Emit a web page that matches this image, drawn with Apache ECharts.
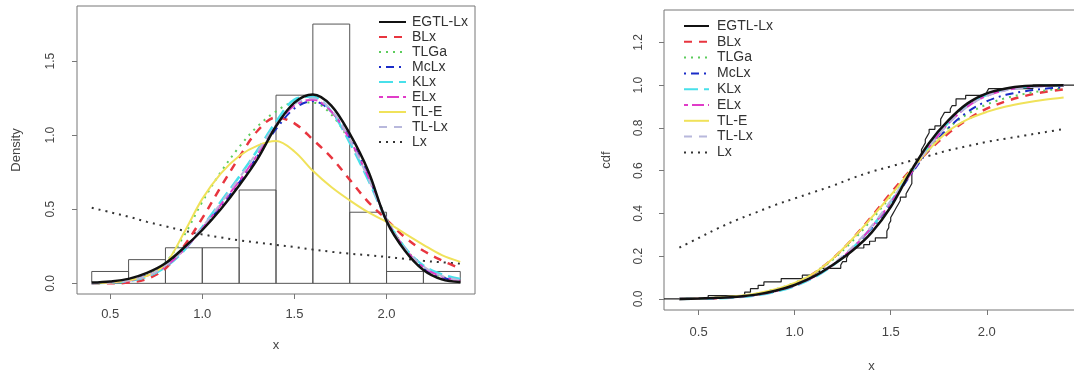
<!DOCTYPE html>
<html>
<head>
<meta charset="utf-8">
<title>Fitted densities and cdfs</title>
<script src="https://cdn.jsdelivr.net/npm/echarts@6/dist/echarts.min.js"></script>
<style>
  html, body { margin: 0; padding: 0; background: #fff; }
  #chart { width: 1074px; height: 375px; }
</style>
</head>
<body>
<div id="chart"></div>
<script>
const xGrid = [0.4, 0.5, 0.6, 0.7, 0.8, 0.9, 1.0, 1.1, 1.2, 1.3, 1.4,
  1.5, 1.6, 1.7, 1.8, 1.9, 2.0, 2.1, 2.2, 2.3, 2.4];

// histogram on density scale
const binEdges = [0.4, 0.6, 0.8, 1.0, 1.2, 1.4, 1.6, 1.8, 2.0, 2.2, 2.4];
const histDensity = [0.08, 0.16, 0.24, 0.24, 0.63, 1.27, 1.75, 0.48, 0.08, 0.08];

// fitted pdfs
const pdfEGTLLx = [0.005, 0.013, 0.03, 0.07, 0.135, 0.24, 0.36, 0.50, 0.66, 0.84, 1.06,
  1.22, 1.275, 1.20, 1.01, 0.76, 0.42, 0.22, 0.09, 0.027, 0.009];
const pdfBLx = [0.0, 0.0, 0.005, 0.03, 0.10, 0.25, 0.44, 0.65, 0.85, 1.03, 1.12,
  1.08, 0.97, 0.85, 0.70, 0.55, 0.43, 0.31, 0.22, 0.155, 0.10];
const pdfTLGa = [0.0, 0.005, 0.02, 0.055, 0.14, 0.32, 0.55, 0.75, 0.92, 1.06, 1.16,
  1.22, 1.22, 1.14, 0.96, 0.72, 0.44, 0.24, 0.11, 0.045, 0.015];
const pdfMcLx = [0.0, 0.008, 0.02, 0.055, 0.12, 0.23, 0.37, 0.52, 0.68, 0.86, 1.04,
  1.18, 1.23, 1.16, 0.98, 0.73, 0.43, 0.23, 0.10, 0.04, 0.015];
const pdfKLx = [0.0, 0.005, 0.015, 0.045, 0.11, 0.22, 0.38, 0.55, 0.72, 0.90, 1.09,
  1.24, 1.26, 1.16, 0.95, 0.70, 0.43, 0.24, 0.12, 0.06, 0.03];
const pdfELx = [0.0, 0.005, 0.018, 0.05, 0.115, 0.225, 0.37, 0.53, 0.69, 0.87, 1.06,
  1.20, 1.24, 1.16, 0.97, 0.72, 0.43, 0.235, 0.11, 0.045, 0.018];
const pdfTLE = [0.0, 0.005, 0.02, 0.05, 0.13, 0.34, 0.57, 0.74, 0.86, 0.93, 0.96,
  0.89, 0.76, 0.65, 0.56, 0.48, 0.415, 0.335, 0.26, 0.19, 0.145];
const pdfTLLx = [0.0, 0.006, 0.02, 0.05, 0.12, 0.23, 0.38, 0.54, 0.71, 0.89, 1.07,
  1.21, 1.25, 1.17, 0.97, 0.71, 0.43, 0.235, 0.115, 0.05, 0.02];
const pdfLx = [0.51, 0.48, 0.45, 0.415, 0.385, 0.355, 0.33, 0.31, 0.29, 0.275, 0.26,
  0.245, 0.228, 0.213, 0.20, 0.19, 0.178, 0.165, 0.152, 0.142, 0.133];

// fitted cdfs
const cdfEGTLLx = [0.0, 0.002, 0.005, 0.01, 0.02, 0.038, 0.065, 0.105, 0.16, 0.225, 0.31,
  0.43, 0.59, 0.73, 0.835, 0.915, 0.962, 0.985, 0.996, 0.999, 1.0];
const cdfBLx = [0.0, 0.001, 0.004, 0.01, 0.02, 0.04, 0.07, 0.12, 0.19, 0.28, 0.385,
  0.495, 0.60, 0.695, 0.775, 0.84, 0.89, 0.925, 0.95, 0.968, 0.98];
const cdfTLGa = [0.0, 0.002, 0.006, 0.012, 0.024, 0.045, 0.075, 0.12, 0.185, 0.27, 0.37,
  0.48, 0.60, 0.71, 0.80, 0.865, 0.91, 0.94, 0.96, 0.975, 0.985];
const cdfMcLx = [0.0, 0.001, 0.004, 0.009, 0.018, 0.035, 0.062, 0.103, 0.16, 0.235, 0.33,
  0.445, 0.575, 0.70, 0.80, 0.875, 0.925, 0.955, 0.972, 0.983, 0.99];
const cdfKLx = [0.0, 0.001, 0.003, 0.008, 0.017, 0.034, 0.06, 0.10, 0.158, 0.235, 0.335,
  0.455, 0.585, 0.715, 0.825, 0.905, 0.955, 0.98, 0.992, 0.997, 0.999];
const cdfELx = [0.0, 0.001, 0.004, 0.009, 0.019, 0.036, 0.063, 0.103, 0.16, 0.237, 0.335,
  0.45, 0.58, 0.71, 0.82, 0.90, 0.95, 0.977, 0.99, 0.996, 0.999];
const cdfTLE = [0.0, 0.002, 0.006, 0.013, 0.025, 0.045, 0.075, 0.12, 0.19, 0.28, 0.38,
  0.485, 0.595, 0.70, 0.785, 0.84, 0.875, 0.90, 0.918, 0.932, 0.943];
const cdfTLLx = [0.0, 0.002, 0.005, 0.01, 0.02, 0.038, 0.066, 0.107, 0.165, 0.242, 0.34,
  0.458, 0.586, 0.712, 0.82, 0.90, 0.95, 0.976, 0.989, 0.995, 0.998];
const cdfLx = [0.24, 0.285, 0.33, 0.37, 0.405, 0.44, 0.47, 0.50, 0.53, 0.565, 0.595,
  0.62, 0.645, 0.67, 0.695, 0.715, 0.735, 0.75, 0.765, 0.78, 0.795];

// observed strengths, sorted (steps of the empirical cdf)
const fibre = [0.55, 0.74, 0.77, 0.81, 0.84, 0.93, 1.04, 1.11, 1.13, 1.24, 1.25, 1.27,
  1.28, 1.29, 1.30, 1.36, 1.39, 1.42, 1.48, 1.48, 1.49, 1.49, 1.50, 1.50, 1.51, 1.52,
  1.53, 1.54, 1.55, 1.55, 1.58, 1.59, 1.60, 1.61, 1.61, 1.61, 1.61, 1.62, 1.62, 1.63,
  1.64, 1.66, 1.66, 1.66, 1.67, 1.68, 1.68, 1.69, 1.70, 1.70, 1.73, 1.76, 1.76, 1.77,
  1.78, 1.81, 1.82, 1.84, 1.84, 1.89, 2.00, 2.01, 2.24];

const modelNames = ['EGTL-Lx', 'BLx', 'TLGa', 'McLx', 'KLx', 'ELx', 'TL-E', 'TL-Lx', 'Lx'];
const pdfs = [pdfEGTLLx, pdfBLx, pdfTLGa, pdfMcLx, pdfKLx, pdfELx, pdfTLE, pdfTLLx, pdfLx];
const cdfs = [cdfEGTLLx, cdfBLx, cdfTLGa, cdfMcLx, cdfKLx, cdfELx, cdfTLE, cdfTLLx, cdfLx];
const xTicks = [0.5, 1.0, 1.5, 2.0];
const densityTicks = [0, 0.5, 1.0, 1.5];
const cdfTicks = [0, 0.2, 0.4, 0.6, 0.8, 1.0, 1.2];

// R style lty 1..6 then recycled, col 1..8 then recycled
const styles = [
  { color: '#111111', type: 'solid', width: 2.5 },
  { color: '#e8353f', type: [8, 7], width: 2.5 },
  { color: '#5ccc5c', type: [2, 5], width: 2 },
  { color: '#1a2cc8', type: [2, 5, 8, 5], width: 2 },
  { color: '#48e0ea', type: [14, 6], width: 2.5 },
  { color: '#e03cc8', type: [4, 4, 12, 4], width: 2 },
  { color: '#f0e25a', type: 'solid', width: 2 },
  { color: '#b8b8dc', type: [8, 7], width: 2 },
  { color: '#333333', type: [2, 5], width: 2 },
]

const font = 'Liberation Sans, Arial, sans-serif'
const textColor = '#444'

function valueAxis(gridIndex, min, max, ticks, extra) {
  return Object.assign({
    gridIndex: gridIndex,
    type: 'value',
    min: min,
    max: max,
    axisLine: { show: false, onZero: false },
    splitLine: { show: false },
    axisTick: { show: true, length: 5, customValues: ticks, lineStyle: { color: '#777' } },
    axisLabel: {
      customValues: ticks,
      formatter: (v) => v.toFixed(1),
      color: textColor,
      fontFamily: font,
      fontSize: 13,
    },
    nameLocation: 'middle',
    nameTextStyle: { color: textColor, fontFamily: font, fontSize: 13 },
  }, extra)
}

function legend(left, top, width, gap, pad) {
  return {
    data: modelNames,
    orient: 'vertical',
    left: left,
    top: top,
    itemWidth: width,
    itemHeight: 14,
    itemGap: gap,
    selectedMode: false,
    itemStyle: { opacity: 0 },
    textStyle: { color: '#333', fontFamily: font, fontSize: 14, padding: [0, 0, 0, pad] },
  }
}

const series = []

series.push({
  type: 'custom',
  xAxisIndex: 0,
  yAxisIndex: 0,
  silent: true,
  data: histDensity.map((h, i) => [binEdges[i], binEdges[i + 1], h]),
  encode: { x: [0, 1], y: 2 },
  renderItem: (params, api) => {
    const p0 = api.coord([api.value(0), api.value(2)])
    const p1 = api.coord([api.value(1), 0])
    return {
      type: 'rect',
      shape: { x: p0[0], y: p0[1], width: p1[0] - p0[0], height: p1[1] - p0[1] },
      style: { fill: 'none', stroke: '#555', lineWidth: 1 },
    }
  },
})

// empirical cdf as a step line
const ecdfData = [[0.32, 0]]
fibre.forEach((x, i) => ecdfData.push([x, (i + 1) / fibre.length]))
ecdfData.push([2.48, 1])
series.push({
  type: 'line',
  xAxisIndex: 1,
  yAxisIndex: 1,
  step: 'end',
  symbol: 'none',
  data: ecdfData,
  lineStyle: { color: '#222', width: 1.2 },
  z: 1,
})

// draw EGTL-Lx last so it sits on top
const order = [8, 1, 2, 3, 4, 5, 6, 7, 0]
for (const panel of [0, 1]) {
  order.forEach((k) => {
    const values = panel === 0 ? pdfs[k] : cdfs[k]
    series.push({
      type: 'line',
      name: modelNames[k],
      xAxisIndex: panel,
      yAxisIndex: panel,
      symbol: 'none',
      smooth: 0.35,
      data: xGrid.map((x, j) => [x, values[j]]),
      lineStyle: styles[k],
      itemStyle: { color: styles[k].color },
      z: 2,
    })
  })
}

const chart = echarts.init(document.getElementById('chart'))
chart.setOption({
  animation: false,
  backgroundColor: '#fff',
  grid: [
    { left: 77, top: 6, width: 398, height: 288, show: true, borderColor: '#777', borderWidth: 1,
      outerBoundsMode: 'none' },
    { left: 664, top: 10, width: 415, height: 300, show: true, borderColor: '#777', borderWidth: 1,
      outerBoundsMode: 'none' },
  ],
  xAxis: [
    valueAxis(0, 0.32, 2.48, xTicks, { name: 'x', nameGap: 45 }),
    valueAxis(1, 0.32, 2.48, xTicks, { name: 'x', nameGap: 50 }),
  ],
  yAxis: [
    valueAxis(0, -0.072, 1.872, densityTicks, { name: 'Density', nameGap: 54 }),
    valueAxis(1, -0.052, 1.352, cdfTicks, { name: 'cdf', nameGap: 51 }),
  ],
  legend: [
    legend(373, 10, 27, 1, 1),
    legend(678, 14, 25, 1.8, 3),
  ],
  series: series,
})

// rotated y tick labels like base R
chart.setOption({
  yAxis: [
    { axisLabel: { rotate: 90, margin: 20, fontSize: 12 } },
    { axisLabel: { rotate: 90, margin: 19, fontSize: 12 } },
  ],
  xAxis: [
    { axisLabel: { margin: 14 } },
    { axisLabel: { margin: 16 } },
  ],
})
</script>
</body>
</html>
